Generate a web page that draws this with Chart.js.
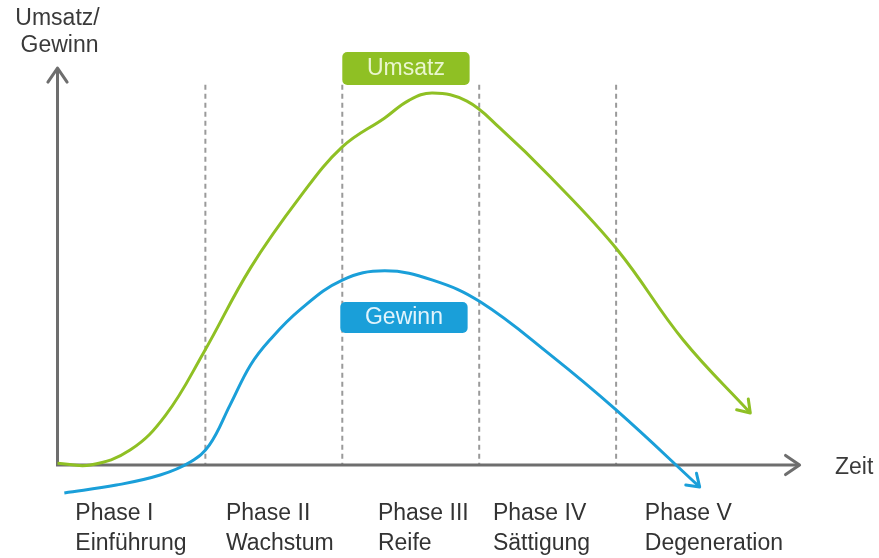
<!DOCTYPE html>
<html>
<head>
<meta charset="utf-8">
<script src="https://cdn.jsdelivr.net/npm/chart.js@4.4.0/dist/chart.umd.min.js"></script>
<style>
  body { margin: 0; background: #fff; }
  #wrap { width: 879px; height: 558px; position: relative; }
</style>
</head>
<body>
<div id="wrap"><canvas id="chart"></canvas></div>
<script>
'use strict';

// time axis in "phase" units, value axis 0..100 (Umsatz peak = 100)
const umsatzT = [0, 0.24, 0.53, 0.79, 1.07, 1.41, 1.77, 2.08, 2.39, 2.57, 2.74, 2.99, 3.23, 3.60, 4.09, 4.57, 5.06];
const umsatzV = [0.5, 0, 4.0, 13.4, 30.4, 53.0, 72.0, 85.5, 93.3, 98.1, 100, 97.8, 90.6, 77.4, 57.8, 33.6, 14.0];

const gewinnT = [0.05, 0.43, 0.75, 0.97, 1.11, 1.26, 1.41, 1.55, 1.77, 2.08, 2.39, 2.74, 3.09, 3.60, 4.08, 4.69];
const gewinnV = [-7.5, -5.4, -2.7, 0.8, 5.4, 16.1, 26.9, 33.6, 41.7, 49.7, 52.2, 49.7, 43.8, 29.6, 14.8, -5.9];

const phaseBounds = [1.08, 2.08, 3.08, 4.08];
const phaseNames = ['Phase I', 'Phase II', 'Phase III', 'Phase IV', 'Phase V'];
const phaseSubs = ['Einführung', 'Wachstum', 'Reife', 'Sättigung', 'Degeneration'];
const phaseLabelX = [0.13, 1.23, 2.34, 3.18, 4.29];

const xAxisEnd = 5.42;
const yAxisEnd = 106.7;

const GREEN = '#8fc024';
const BLUE = '#1a9fd9';
const AXIS = '#6e6e6e';
const FONT = '"Liberation Sans", Arial, sans-serif';

function toPoints(ts, vs) {
  let pts = [];
  for (let i = 0; i < ts.length; i++) {
    pts.push({ x: ts[i], y: vs[i] });
  }
  return pts;
}

function chevron(ctx, x, y, angle, len, color, width) {
  ctx.save();
  ctx.strokeStyle = color;
  ctx.lineWidth = width;
  ctx.lineCap = 'round';
  ctx.lineJoin = 'round';
  ctx.beginPath();
  ctx.moveTo(x - len * Math.cos(angle - 0.6), y - len * Math.sin(angle - 0.6));
  ctx.lineTo(x, y);
  ctx.lineTo(x - len * Math.cos(angle + 0.6), y - len * Math.sin(angle + 0.6));
  ctx.stroke();
  ctx.restore();
}

function roundBox(ctx, x1, y1, x2, y2, r, fill) {
  ctx.fillStyle = fill;
  ctx.beginPath();
  ctx.roundRect(x1, y1, x2 - x1, y2 - y1, r);
  ctx.fill();
}

const backdrop = {
  id: 'backdrop',
  beforeDatasetsDraw(chart) {
    const ctx = chart.ctx;
    const xs = chart.scales.x, ys = chart.scales.y;
    const x0 = xs.getPixelForValue(0), y0 = ys.getPixelForValue(0);

    // dashed phase borders
    ctx.save();
    ctx.strokeStyle = '#9a9a9a';
    ctx.lineWidth = 2;
    ctx.setLineDash([5, 4]);
    phaseBounds.forEach(b => {
      const px = xs.getPixelForValue(b);
      ctx.beginPath();
      ctx.moveTo(px, ys.getPixelForValue(102.2));
      ctx.lineTo(px, y0);
      ctx.stroke();
    });
    ctx.restore();

    // axes
    ctx.save();
    ctx.strokeStyle = AXIS;
    ctx.lineWidth = 3;
    const xe = xs.getPixelForValue(xAxisEnd), ye = ys.getPixelForValue(yAxisEnd);
    ctx.beginPath();
    ctx.moveTo(x0, ye + 2);
    ctx.lineTo(x0, y0);
    ctx.lineTo(xe - 2, y0);
    ctx.stroke();
    ctx.restore();
    chevron(ctx, x0, ye, -Math.PI / 2, 17, AXIS, 3);
    chevron(ctx, xe, y0, 0, 17, AXIS, 3);

    // axis titles
    ctx.save();
    ctx.fillStyle = '#3a3a3a';
    ctx.font = '23px ' + FONT;
    ctx.textAlign = 'center';
    ctx.textBaseline = 'middle';
    ctx.fillText('Umsatz/', x0, 19);
    ctx.fillText('Gewinn', x0 + 2, 46);
    ctx.textAlign = 'left';
    ctx.fillText('Zeit', 835, y0 + 3);

    // phase labels
    ctx.fillStyle = '#333';
    for (let i = 0; i < phaseNames.length; i++) {
      const px = xs.getPixelForValue(phaseLabelX[i]);
      ctx.fillText(phaseNames[i], px, y0 + 49);
      ctx.fillText(phaseSubs[i], px, y0 + 79);
    }
    ctx.restore();
  },
  afterDatasetsDraw(chart) {
    const ctx = chart.ctx;
    const xs = chart.scales.x;

    // arrow heads at curve ends, along the incoming tangent
    chart.data.datasets.forEach((ds, i) => {
      const pts = chart.getDatasetMeta(i).data;
      const b = pts[pts.length - 1];
      let ax = b.cp1x, ay = b.cp1y;
      if (ax === undefined || (Math.abs(ax - b.x) < 1 && Math.abs(ay - b.y) < 1)) {
        ax = pts[pts.length - 2].x;
        ay = pts[pts.length - 2].y;
      }
      const ang = Math.atan2(b.y - ay, b.x - ax);
      chevron(ctx, b.x, b.y, ang, 14, ds.borderColor, 3);
    });

    // series labels
    ctx.save();
    ctx.font = '23px ' + FONT;
    ctx.textAlign = 'center';
    ctx.textBaseline = 'middle';
    const bx1 = xs.getPixelForValue(2.08), bx2 = xs.getPixelForValue(3.01);
    roundBox(ctx, bx1, 52, bx2, 85, 5, GREEN);
    ctx.fillStyle = '#eaf6cf';
    ctx.fillText('Umsatz', (bx1 + bx2) / 2, 69);
    roundBox(ctx, bx1 - 2, 302, bx2 - 2, 333, 5, BLUE);
    ctx.fillStyle = '#e2f4fc';
    ctx.fillText('Gewinn', (bx1 + bx2) / 2 - 2, 318);
    ctx.restore();
  }
};

new Chart(document.getElementById('chart'), {
  type: 'scatter',
  data: {
    datasets: [
      {
        label: 'Umsatz',
        data: toPoints(umsatzT, umsatzV),
        showLine: true,
        borderColor: GREEN,
        borderWidth: 3,
        pointRadius: 0,
        tension: 0.4
      },
      {
        label: 'Gewinn',
        data: toPoints(gewinnT, gewinnV),
        showLine: true,
        borderColor: BLUE,
        borderWidth: 3,
        pointRadius: 0,
        tension: 0.4
      }
    ]
  },
  options: {
    responsive: true,
    maintainAspectRatio: false,
    animation: false,
    layout: { padding: 0 },
    plugins: { legend: { display: false }, tooltip: { enabled: false } },
    scales: {
      x: { type: 'linear', min: -0.42, max: 6.0, display: false },
      y: { type: 'linear', min: -25, max: 125, display: false }
    }
  },
  plugins: [backdrop]
});
</script>
</body>
</html>
